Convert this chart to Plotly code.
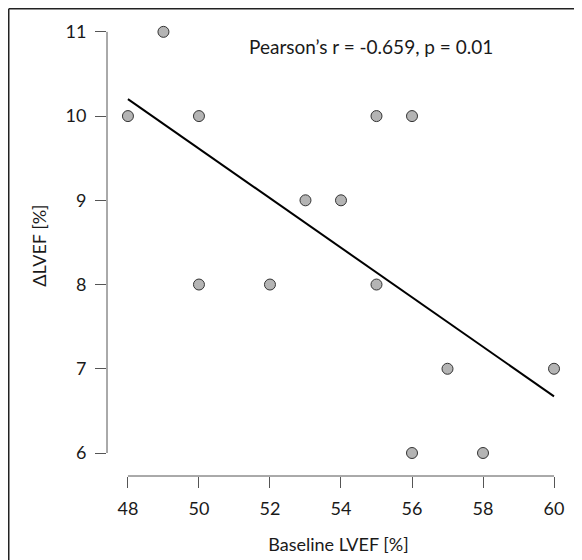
import numpy as np
import plotly.graph_objects as go

baseline_lvef = [48, 49, 50, 50, 52, 53, 54, 55, 55, 56, 56, 57, 58, 60]
delta_lvef = [10, 11, 10, 8, 8, 9, 9, 10, 8, 10, 6, 7, 6, 7]
x_ticks = [48, 50, 52, 54, 56, 58, 60]
y_ticks = [6, 7, 8, 9, 10, 11]
annotation_text = "Pearson\u2019s r = -0.659, p = 0.01"

slope, intercept = np.polyfit(baseline_lvef, delta_lvef, 1)
fit_x = [min(baseline_lvef), max(baseline_lvef)]
fit_y = [slope * v + intercept for v in fit_x]

# page body has an 8px margin; figure sized to fit the window exactly
OFF = 8
W, H = 582 - OFF, 560 - OFF
L, R, T, B = 107 - OFF, 12, 15 - OFF, 84
pw, ph = W - L - R, H - T - B
FONT = "Lato, Carlito, Open Sans, sans-serif"
AX = "#555555"
FS = 18

fig = go.Figure()
fig.add_trace(go.Scatter(x=fit_x, y=fit_y, mode="lines",
                         line=dict(color="black", width=2), hoverinfo="skip"))
fig.add_trace(go.Scatter(x=baseline_lvef, y=delta_lvef, mode="markers",
                         marker=dict(size=11, color="#b4b4b4",
                                     line=dict(color="#333333", width=1))))

def px_to_paper_x(px):
    return (px - OFF - L) / pw

def px_to_paper_y(py):
    return (H - B - (py - OFF)) / ph

shapes = [
    dict(type="line", xref="x", yref="paper", x0=x_ticks[0], x1=x_ticks[-1], y0=0, y1=0,
         line=dict(color=AX, width=1)),
    dict(type="line", xref="paper", yref="y", x0=0, x1=0, y0=y_ticks[0], y1=y_ticks[-1],
         line=dict(color=AX, width=1)),
    dict(type="line", xref="paper", yref="paper", x0=px_to_paper_x(OFF + 0.75), x1=px_to_paper_x(590),
         y0=px_to_paper_y(OFF + 0.75), y1=px_to_paper_y(OFF + 0.75), line=dict(color="#222222", width=1.5)),
    dict(type="line", xref="paper", yref="paper", x0=px_to_paper_x(OFF + 0.75), x1=px_to_paper_x(OFF + 0.75),
         y0=px_to_paper_y(OFF + 0.75), y1=px_to_paper_y(570), line=dict(color="#222222", width=1.5)),
]

fig.update_layout(
    width=W, height=H,
    margin=dict(l=L, r=R, t=T, b=B, pad=0),
    paper_bgcolor="white", plot_bgcolor="white",
    showlegend=False,
    font=dict(family=FONT, size=FS, color="#1a1a1a"),
    shapes=shapes,
    annotations=[dict(text=annotation_text, x=px_to_paper_x(247), y=px_to_paper_y(47),
                      xref="paper", yref="paper",
                      xanchor="left", yanchor="middle", showarrow=False,
                      font=dict(family=FONT, size=19, color="#1a1a1a"))],
    xaxis=dict(range=[47.41, 60.45], tickvals=x_ticks, ticktext=[str(v) for v in x_ticks],
               showgrid=False, zeroline=False, showline=False, automargin=False,
               ticks="outside", ticklen=11, tickcolor=AX, tickwidth=1,
               ticklabelstandoff=5,
               title=dict(text="Baseline LVEF [%]", standoff=20, font=dict(size=FS)),
               tickfont=dict(size=FS)),
    yaxis=dict(range=[5.727, 11.2], tickvals=y_ticks, ticktext=[str(v) for v in y_ticks],
               showgrid=False, zeroline=False, showline=False, automargin=False,
               ticks="outside", ticklen=11, tickcolor=AX, tickwidth=1,
               ticklabelstandoff=5,
               title=dict(text="\u0394LVEF [%]", standoff=14, font=dict(size=FS)),
               tickfont=dict(size=FS)),
)

fig.write_html("out.html")
